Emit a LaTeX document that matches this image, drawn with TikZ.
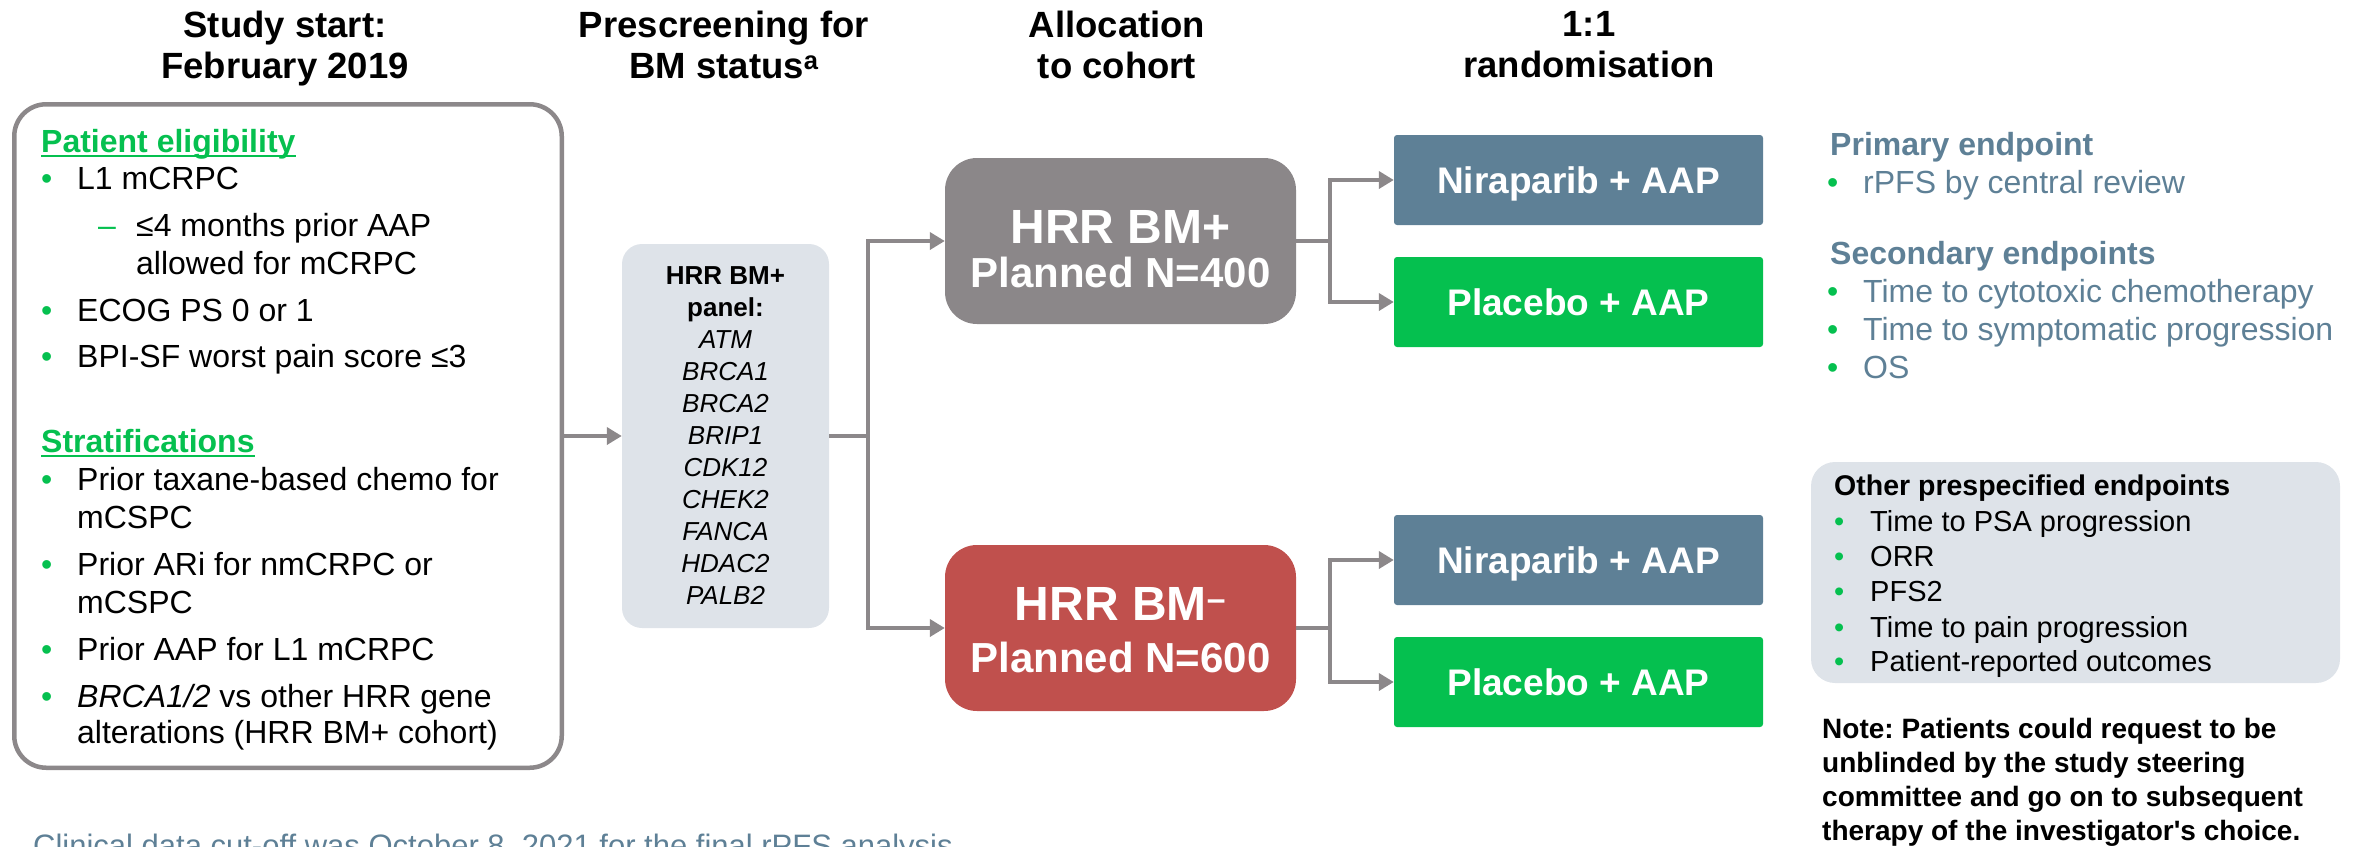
\documentclass[tikz,border=0pt]{standalone}
\usepackage{fontspec}
\setmainfont{Liberation Sans}
\usepackage{xcolor}
\usetikzlibrary{positioning, arrows.meta}
\definecolor{StudyGreen}{HTML}{05C04F}
\definecolor{SteelBlue}{HTML}{5E8096}
\definecolor{CohortGray}{HTML}{8B8789}
\definecolor{CohortRed}{HTML}{C0504D}
\definecolor{PanelGray}{HTML}{DEE3E9}
\definecolor{LineGray}{HTML}{8C888A}
\newcommand{\gbul}{\makebox[36pt][l]{\textcolor{StudyGreen}{•}}}
\frenchspacing

\begin{document}
\begin{tikzpicture}[x=1pt, y=-1pt,
    hdr/.style={anchor=north, align=center, inner sep=0pt, font=\fontsize{36.5}{41}\selectfont\bfseries},
    eligbox/.style={draw=LineGray, line width=4.5pt, rounded corners=32pt, minimum width=547.5pt, minimum height=663.5pt},
    ltxt/.style={anchor=base west, inner sep=0pt, font=\fontsize{32}{38}\selectfont},
    lhead/.style={anchor=base west, inner sep=0pt, text=StudyGreen, font=\fontsize{32}{38}\selectfont\bfseries},
    uline/.style={StudyGreen, line width=2.6pt},
    panelbox/.style={fill=PanelGray, rounded corners=20pt, minimum width=207pt, minimum height=384pt, inner sep=0pt, align=center, font=\fontsize{26}{32}\selectfont},
    cohort/.style={rounded corners=32pt, minimum width=351pt, minimum height=166pt, inner sep=0pt},
    cohtop/.style={anchor=base, inner sep=0pt, text=white, font=\fontsize{48}{48}\selectfont\bfseries},
    cohbot/.style={anchor=base, inner sep=0pt, text=white, font=\fontsize{42}{42}\selectfont\bfseries},
    armbox/.style={rounded corners=3pt, minimum width=369pt, minimum height=90pt, inner sep=0pt, text depth=0pt, text=white, font=\fontsize{37}{37}\selectfont\bfseries},
    rtxt/.style={anchor=base west, inner sep=0pt, text=SteelBlue, font=\fontsize{32}{38}\selectfont},
    rhead/.style={anchor=base west, inner sep=0pt, text=SteelBlue, font=\fontsize{32}{38}\selectfont\bfseries},
    otxt/.style={anchor=base west, inner sep=0pt, font=\fontsize{29}{35}\selectfont},
    link/.style={LineGray, line width=4.5pt},
    arr/.style={LineGray, line width=4.5pt, -{Triangle[length=15pt, width=17pt]}}
]
\useasboundingbox (0,0) rectangle (2357,846);

% Column headers
\node[hdr] (hstart) at (285,11) {Study start:\\February 2019};
\node[hdr] (hscreen) at (724,11) {Prescreening for\\BM status\textsuperscript{a}};
\node[hdr] (halloc) at (1117,11) {Allocation\\to cohort};
\node[hdr] (hrand) at (1589,11) {1:1\\randomisation};

% Eligibility box
\node[eligbox] (elig) at (288,436) {};
\node[lhead] (pelig) at (41,152) {Patient eligibility};
\draw[uline] ([yshift=-4pt]pelig.base west) -- ([yshift=-4pt]pelig.base east);
\node[ltxt] (el1) at (41,189) {\gbul L1 mCRPC};
\node[ltxt] (el2) at (98,236) {\makebox[38pt][l]{\textcolor{StudyGreen}{–}}≤4 months prior AAP};
\node[ltxt] (el3) at (136,274) {allowed for mCRPC};
\node[ltxt] (el4) at (41,321) {\gbul ECOG PS 0 or 1};
\node[ltxt] (el5) at (41,367) {\gbul BPI-SF worst pain score ≤3};
\node[lhead] (strat) at (41,452) {Stratifications};
\draw[uline] ([yshift=-4pt]strat.base west) -- ([yshift=-4pt]strat.base east);
\node[ltxt] (st1) at (41,490) {\gbul Prior taxane-based chemo for};
\node[ltxt] (st2) at (77,528) {mCSPC};
\node[ltxt] (st3) at (41,575) {\gbul Prior ARi for nmCRPC or};
\node[ltxt] (st4) at (77,613) {mCSPC};
\node[ltxt] (st5) at (41,660) {\gbul Prior AAP for L1 mCRPC};
\node[ltxt] (st6) at (41,707) {\gbul \textit{BRCA1/2} vs other HRR gene};
\node[ltxt] (st7) at (77,743) {alterations (HRR BM+ cohort)};

% Biomarker panel
\node[panelbox] (panel) at (725.5,436) {\textbf{HRR BM+}\\\textbf{panel:}\\\textit{ATM}\\\textit{BRCA1}\\\textit{BRCA2}\\\textit{BRIP1}\\\textit{CDK12}\\\textit{CHEK2}\\\textit{FANCA}\\\textit{HDAC2}\\\textit{PALB2}};

% Cohorts
\node[cohort, fill=CohortGray] (bmpos) at (1120.5,241) {};
\node[cohtop] (bmposa) at (1120.5,243) {HRR BM+};
\node[cohbot] (bmposb) at (1120.5,287) {Planned N=400};
\node[cohort, fill=CohortRed] (bmneg) at (1120.5,628) {};
\node[cohtop] (bmnega) at (1120.5,620) {HRR BM\textsuperscript{–}};
\node[cohbot] (bmnegb) at (1120.5,672) {Planned N=600};

% Treatment arms
\node[armbox, fill=SteelBlue] (nirapos) at (1578.5,180) {Niraparib + AAP};
\node[armbox, fill=StudyGreen] (placpos) at (1578.5,302) {Placebo + AAP};
\node[armbox, fill=SteelBlue] (niraneg) at (1578.5,560) {Niraparib + AAP};
\node[armbox, fill=StudyGreen] (placneg) at (1578.5,682) {Placebo + AAP};

% Connectors
\draw[arr] (elig) -- (panel);
\coordinate (splitA) at (868,436);
\draw[link] (panel) -- (splitA);
\draw[arr] (splitA) |- (bmpos);
\draw[arr] (splitA) |- (bmneg);
\coordinate (splitB) at (1330,241);
\draw[link] (bmpos) -- (splitB);
\draw[arr] (splitB) |- (nirapos);
\draw[arr] (splitB) |- (placpos);
\coordinate (splitC) at (1330,628);
\draw[link] (bmneg) -- (splitC);
\draw[arr] (splitC) |- (niraneg);
\draw[arr] (splitC) |- (placneg);

% Endpoints
\node[rhead] (prim) at (1830,155) {Primary endpoint};
\node[rtxt] (pr1) at (1827,193) {\gbul rPFS by central review};
\node[rhead] (sec) at (1830,264) {Secondary endpoints};
\node[rtxt] (se1) at (1827,302) {\gbul Time to cytotoxic chemotherapy};
\node[rtxt] (se2) at (1827,340) {\gbul Time to symptomatic progression};
\node[rtxt] (se3) at (1827,378) {\gbul OS};

\node[fill=PanelGray, rounded corners=24pt, minimum width=529pt, minimum height=221pt] (otherbox) at (2075.5,572.5) {};
\node[otxt, font=\fontsize{28.5}{35}\selectfont\bfseries] (oth) at (1834,495) {Other prespecified endpoints};
\node[otxt] (ot1) at (1834,531) {\gbul Time to PSA progression};
\node[otxt] (ot2) at (1834,566) {\gbul ORR};
\node[otxt] (ot3) at (1834,601) {\gbul PFS2};
\node[otxt] (ot4) at (1834,637) {\gbul Time to pain progression};
\node[otxt] (ot5) at (1834,671) {\gbul Patient-reported outcomes};

% Note and footnote
\node[anchor=north west, inner sep=0pt, align=left, font=\fontsize{28}{34.2}\selectfont\bfseries] (note) at (1822,717.5) {Note: Patients could request to be\\unblinded by the study steering\\committee and go on to subsequent\\therapy of the investigator\textquotesingle s choice.};
\node[anchor=base west, inner sep=0pt, text=SteelBlue, font=\fontsize{31}{36}\selectfont] (cutoff) at (33,856) {Clinical data cut-off was October 8, 2021 for the final rPFS analysis};

\end{tikzpicture}
\end{document}
